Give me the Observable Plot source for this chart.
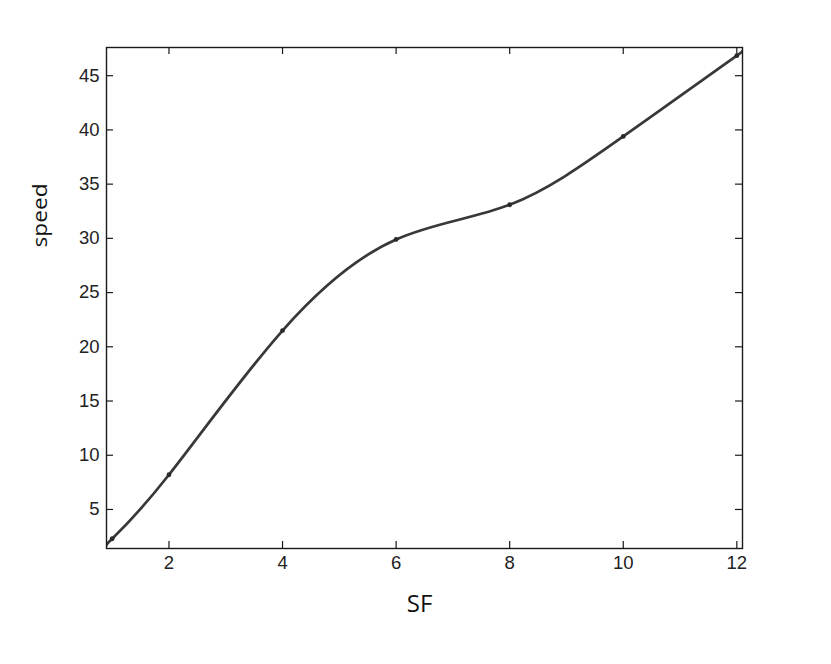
<!DOCTYPE html>
<html>
<head>
<meta charset="utf-8">
<script src="https://cdn.jsdelivr.net/npm/d3@7"></script>
<script src="https://cdn.jsdelivr.net/npm/@observablehq/plot@0.6"></script>
<style>
  html, body { margin: 0; padding: 0; background: #fff; }
  #chart svg { display: block; }
</style>
</head>
<body>
<div id="chart"></div>
<script>
// Measured data points (markers)
const sf = [1, 2, 4, 6, 8, 10, 12];
const speed = [2.3, 8.2, 21.5, 29.9, 33.1, 39.4, 46.85];

// Smooth curve (spans the full axis range, as in the reference)
const curveSF = [0.9, 1, 2, 4, 6, 8, 10, 12, 12.1];
const curveSpeed = [1.7, 2.3, 8.2, 21.5, 29.9, 33.1, 39.4, 46.85, 47.3];

// Axis ranges and tick values
const xDomain = [0.9, 12.1];
const yDomain = [1.4, 47.6];
const xTicks = [2, 4, 6, 8, 10, 12];
const yTicks = [5, 10, 15, 20, 25, 30, 35, 40, 45];

const xLabel = "SF";
const yLabel = "speed";

const points = sf.map((x, i) => ({x, y: speed[i]}));
const curve = curveSF.map((x, i) => ({x, y: curveSpeed[i]}));

const W = 831, H = 664;
const mL = 106, mR = 89, mT = 47, mB = 116;
const innerW = W - mL - mR, innerH = H - mT - mB;
const tickLen = 7;
const ink = "#1a1a1a";
const tickFont = "'Liberation Sans Narrow', 'Arial Narrow', 'Liberation Sans', Arial, sans-serif";

const chart = Plot.plot({
  width: W,
  height: H,
  marginLeft: mL,
  marginRight: mR,
  marginTop: mT,
  marginBottom: mB,
  style: {background: "#fff", color: ink},
  x: {domain: xDomain},
  y: {domain: yDomain},
  marks: [
    // tick labels
    Plot.axisX(xTicks, {anchor: "bottom", tickSize: 0, tickPadding: 7, label: null,
      fontSize: 18.5, fontFamily: tickFont, fill: "#222"}),
    Plot.axisY(yTicks, {anchor: "left", tickSize: 0, tickPadding: 7, label: null,
      fontSize: 18.5, fontFamily: tickFont, fill: "#222"}),
    // inward ticks on all four sides
    Plot.tickX(xTicks, {x: d => d, insetTop: innerH - tickLen, stroke: ink, strokeWidth: 1.2}),
    Plot.tickX(xTicks, {x: d => d, insetBottom: innerH - tickLen, stroke: ink, strokeWidth: 1.2}),
    Plot.tickY(yTicks, {y: d => d, insetRight: innerW - tickLen, stroke: ink, strokeWidth: 1.2}),
    Plot.tickY(yTicks, {y: d => d, insetLeft: innerW - tickLen, stroke: ink, strokeWidth: 1.2}),
    // curve and markers
    Plot.line(curve, {x: "x", y: "y", curve: "natural", stroke: "#383838", strokeWidth: 2.7, clip: "frame"}),
    Plot.dot(points, {x: "x", y: "y", r: 2.4, fill: "#2a2a2a", stroke: "none"}),
    Plot.frame({stroke: ink, strokeWidth: 1.4}),
    // axis titles
    Plot.text([xLabel], {text: d => d, frameAnchor: "bottom", dx: -5, dy: 56,
      fontSize: 24, fontFamily: "'Open Sans', sans-serif", fill: "#111", lineAnchor: "middle"}),
    Plot.text([yLabel], {text: d => d, frameAnchor: "top-left", dx: 40 - mL, dy: 247 - mT, rotate: -90,
      textAnchor: "start", fontSize: 20, fontWeight: 500, fontFamily: "'Open Sans', sans-serif",
      fill: "#111", lineAnchor: "middle"})
  ]
});

d3.select(chart).selectAll("text")
  .filter(function() { return this.textContent === yLabel; })
  .attr("textLength", 64)
  .attr("lengthAdjust", "spacingAndGlyphs");

document.getElementById("chart").appendChild(chart);
</script>
</body>
</html>
